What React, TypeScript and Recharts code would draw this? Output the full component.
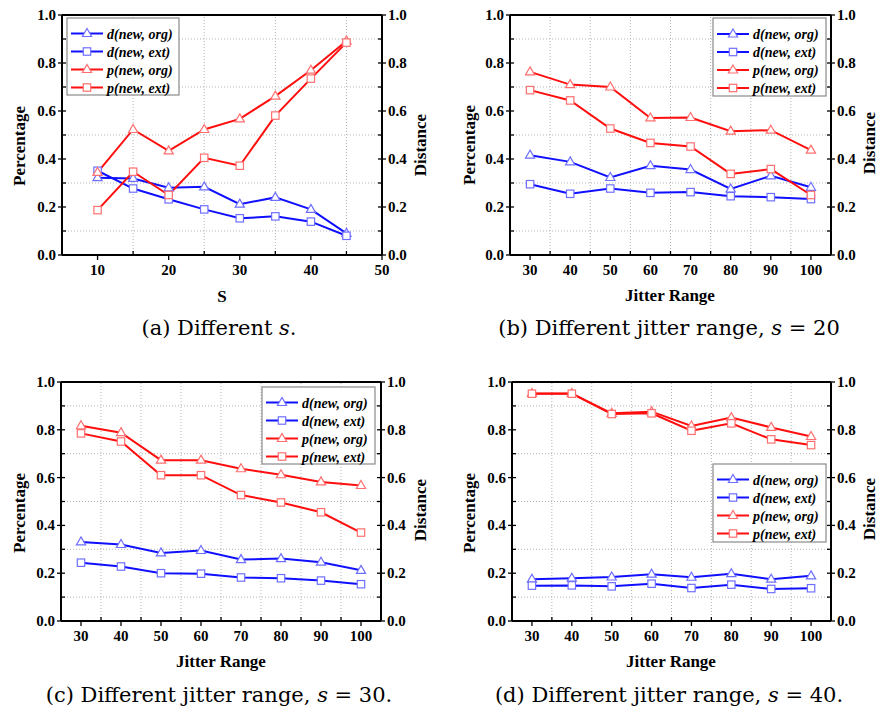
import React from 'react';
import { LineChart, Line, XAxis, YAxis, ReferenceLine } from 'recharts';

// ---------- data ----------
const sValues = [10, 15, 20, 25, 30, 35, 40, 45];
const jitterRange = [30, 40, 50, 60, 70, 80, 90, 100];

const seriesNames = ['d(new, org)', 'd(new, ext)', 'p(new, org)', 'p(new, ext)'];

// (a) Different s
const aDNewOrg = [0.322, 0.319, 0.28, 0.284, 0.212, 0.24, 0.19, 0.09];
const aDNewExt = [0.351, 0.277, 0.232, 0.19, 0.153, 0.161, 0.139, 0.08];
const aPNewOrg = [0.344, 0.523, 0.434, 0.523, 0.567, 0.662, 0.77, 0.892];
const aPNewExt = [0.187, 0.347, 0.25, 0.405, 0.372, 0.581, 0.735, 0.885];

// (b) s = 20
const bDNewOrg = [0.416, 0.388, 0.323, 0.372, 0.356, 0.275, 0.33, 0.282];
const bDNewExt = [0.295, 0.255, 0.277, 0.259, 0.262, 0.245, 0.241, 0.233];
const bPNewOrg = [0.763, 0.71, 0.7, 0.571, 0.573, 0.516, 0.52, 0.437];
const bPNewExt = [0.687, 0.644, 0.527, 0.467, 0.452, 0.338, 0.358, 0.25];

// (c) s = 30
const cDNewOrg = [0.331, 0.32, 0.285, 0.295, 0.257, 0.261, 0.246, 0.212];
const cDNewExt = [0.244, 0.228, 0.2, 0.198, 0.182, 0.179, 0.169, 0.154];
const cPNewOrg = [0.817, 0.788, 0.673, 0.673, 0.637, 0.612, 0.582, 0.567];
const cPNewExt = [0.785, 0.751, 0.61, 0.61, 0.527, 0.496, 0.455, 0.37];

// (d) s = 40
const dDNewOrg = [0.175, 0.179, 0.184, 0.196, 0.183, 0.198, 0.175, 0.189];
const dDNewExt = [0.148, 0.149, 0.145, 0.156, 0.138, 0.152, 0.134, 0.137];
const dPNewOrg = [0.952, 0.952, 0.869, 0.876, 0.816, 0.851, 0.81, 0.772];
const dPNewExt = [0.951, 0.951, 0.866, 0.869, 0.796, 0.827, 0.76, 0.736];

// ticks
const yTicks = [0, 0.1, 0.2, 0.3, 0.4, 0.5, 0.6, 0.7, 0.8, 0.9, 1.0];
const yGrid = [0.1, 0.3, 0.5, 0.7, 0.9];
const sTicks = [5, 10, 15, 20, 25, 30, 35, 40, 45, 50];
const sMajor = [10, 20, 30, 40, 50];
const sGrid = [15, 25, 35, 45];
const jTicks = [25, 30, 35, 40, 45, 50, 55, 60, 65, 70, 75, 80, 85, 90, 95, 100, 105];
const jMajor = [30, 40, 50, 60, 70, 80, 90, 100];
const jGrid = [35, 45, 55, 65, 75, 85, 95];

// ---------- styles ----------
const BLUE = '#1010ff';
const RED = '#ff0e0e';
const BLUE_M = '#6f6fff';
const RED_M = '#ff6f6f';
const SERIF = 'Liberation Serif';
const CAPTION_FONT = 'DejaVu Serif';
const TICK_FS = 15;
const TITLE_FS = 17;

const boldStyle: React.CSSProperties = { fontFamily: SERIF, fontWeight: 700 };

const buildRows = (xs: number[], d1: number[], d2: number[], p1: number[], p2: number[]) =>
  xs.map((x, i) => ({ x, dOrg: d1[i], dExt: d2[i], pOrg: p1[i], pExt: p2[i] }));

const isYMajor = (v: number) => Math.abs(v * 5 - Math.round(v * 5)) < 1e-6;

const TM_Y = 6;
const TM_X = 8;

const YLeftTick = (props: any) => {
  const { x, y, payload } = props;
  const v = payload.value as number;
  const major = isYMajor(v);
  const ax = x + TM_Y;
  return (
    <g>
      <line x1={major ? ax - 4 : ax} x2={ax + 4} y1={y} y2={y} stroke="#000" strokeWidth={1.3} />
      {major && (
        <text x={x} y={y + 5} textAnchor="end" style={{ ...boldStyle, fontSize: TICK_FS }} fill="#000">
          {v.toFixed(1)}
        </text>
      )}
    </g>
  );
};

const YRightTick = (props: any) => {
  const { x, y, payload } = props;
  const v = payload.value as number;
  const major = isYMajor(v);
  const ax = x - TM_Y;
  return (
    <g>
      <line x1={ax - 4} x2={major ? ax + 4 : ax} y1={y} y2={y} stroke="#000" strokeWidth={1.3} />
      {major && (
        <text x={x} y={y + 5} textAnchor="start" style={{ ...boldStyle, fontSize: TICK_FS }} fill="#000">
          {v.toFixed(1)}
        </text>
      )}
    </g>
  );
};

const makeXTick = (major: number[]) => (props: any) => {
  const { x, y, payload } = props;
  const v = payload.value as number;
  const isMaj = major.includes(v);
  const ay = y - TM_X;
  return (
    <g>
      <line x1={x} x2={x} y1={isMaj ? ay : ay - 4} y2={isMaj ? ay + 5 : ay} stroke="#000" strokeWidth={1.3} />
      {isMaj && (
        <text x={x} y={y + 12} textAnchor="middle" style={{ ...boldStyle, fontSize: TICK_FS }} fill="#000">
          {String(v)}
        </text>
      )}
    </g>
  );
};

const Marker = ({ shape, cx, cy, color }: { shape: string; cx: number; cy: number; color: string }) =>
  shape === 'tri' ? (
    <path
      d={`M${cx},${cy - 5} L${cx + 4.6},${cy + 3} L${cx - 4.6},${cy + 3} Z`}
      fill="#fff"
      stroke={color}
      strokeWidth={1.2}
    />
  ) : (
    <rect x={cx - 3.7} y={cy - 3.7} width={7.4} height={7.4} fill="#fff" stroke={color} strokeWidth={1.2} />
  );

const makeDot = (shape: string, color: string) => (p: any) => {
  const { cx, cy, index } = p;
  if (cx == null || cy == null) return <g key={`e-${index}`} />;
  return (
    <g key={`m-${shape}-${index}`}>
      <Marker shape={shape} cx={cx} cy={cy} color={color} />
    </g>
  );
};

const seriesStyle = [
  { key: 'dOrg', stroke: BLUE, mark: BLUE_M, shape: 'tri' },
  { key: 'dExt', stroke: BLUE, mark: BLUE_M, shape: 'sq' },
  { key: 'pOrg', stroke: RED, mark: RED_M, shape: 'tri' },
  { key: 'pExt', stroke: RED, mark: RED_M, shape: 'sq' },
];

type PanelProps = {
  left: number;
  top: number;
  width: number;
  height: number;
  plot: { l: number; r: number; t: number; b: number };
  data: any[];
  xDomain: [number, number];
  xTicks: number[];
  xMajor: number[];
  xGrid: number[];
};

const Y_W = 40;
const X_H = 30;

const Panel = ({ left, top, width, height, plot, data, xDomain, xTicks, xMajor, xGrid }: PanelProps) => {
  const margin = {
    left: plot.l - Y_W,
    right: width - plot.r - Y_W,
    top: plot.t,
    bottom: height - plot.b - X_H,
  };
  return (
    <div style={{ position: 'absolute', left, top }}>
      <LineChart width={width} height={height} data={data} margin={margin}>
        <XAxis
          dataKey="x"
          type="number"
          domain={xDomain}
          ticks={xTicks}
          interval={0}
          allowDataOverflow
          height={X_H}
          tickSize={0}
          tickMargin={TM_X}
          tickLine={false}
          tick={makeXTick(xMajor)}
          axisLine={{ stroke: '#000', strokeWidth: 2 }}
        />
        <YAxis
          yAxisId="left"
          type="number"
          domain={[0, 1]}
          ticks={yTicks}
          interval={0}
          allowDataOverflow
          width={Y_W}
          tickSize={0}
          tickMargin={TM_Y}
          tickLine={false}
          tick={YLeftTick}
          axisLine={{ stroke: '#000', strokeWidth: 2 }}
        />
        <YAxis
          yAxisId="right"
          orientation="right"
          type="number"
          domain={[0, 1]}
          ticks={yTicks}
          interval={0}
          allowDataOverflow
          width={Y_W}
          tickSize={0}
          tickMargin={TM_Y}
          tickLine={false}
          tick={YRightTick}
          axisLine={{ stroke: '#000', strokeWidth: 2 }}
        />
        {yGrid.map((v) => (
          <ReferenceLine key={`gy-${v}`} y={v} yAxisId="left" stroke="#b4b4b4" strokeDasharray="1 2" strokeWidth={1} />
        ))}
        {xGrid.map((v) => (
          <ReferenceLine key={`gx-${v}`} x={v} yAxisId="left" stroke="#b4b4b4" strokeDasharray="1 2" strokeWidth={1} />
        ))}
        <ReferenceLine y={1} yAxisId="left" stroke="#000" strokeWidth={2} />
        {seriesStyle.map((s) => (
          <Line
            key={s.key}
            yAxisId="left"
            type="linear"
            dataKey={s.key}
            stroke={s.stroke}
            strokeWidth={2}
            dot={makeDot(s.shape, s.mark)}
            activeDot={false}
            isAnimationActive={false}
          />
        ))}
      </LineChart>
    </div>
  );
};

const LegendBox = ({ x, y, w, h, first }: { x: number; y: number; w: number; h: number; first: number }) => (
  <g>
    <rect x={x} y={y} width={w} height={h} fill="#fff" stroke="#8a8a8a" strokeWidth={1.2} />
    {seriesNames.map((name, i) => {
      const cy = y + first + i * 18;
      const s = seriesStyle[i];
      return (
        <g key={name}>
          <line x1={x + 4} x2={x + 36} y1={cy} y2={cy} stroke={s.stroke} strokeWidth={2} />
          <Marker shape={s.shape} cx={x + 20} cy={cy} color={s.mark} />
          <text
            x={x + 40}
            y={cy + 5}
            style={{ ...boldStyle, fontStyle: 'italic', fontSize: 14 }}
            fill="#000"
          >
            {name}
          </text>
        </g>
      );
    })}
  </g>
);

const YTitle = ({ x, y, text }: { x: number; y: number; text: string }) => (
  <text
    x={x}
    y={y}
    transform={`rotate(-90 ${x} ${y})`}
    textAnchor="middle"
    style={{ ...boldStyle, fontSize: TITLE_FS }}
    fill="#000"
  >
    {text}
  </text>
);

const XTitle = ({ x, y, text }: { x: number; y: number; text: string }) => (
  <text x={x} y={y} textAnchor="middle" style={{ ...boldStyle, fontSize: TITLE_FS }} fill="#000">
    {text}
  </text>
);

const Caption = ({ x, y, prefix, s, suffix }: { x: number; y: number; prefix: string; s: string; suffix: string }) => (
  <text x={x} y={y} textAnchor="middle" style={{ fontFamily: CAPTION_FONT, fontSize: 21 }} fill="#000">
    {prefix}
    <tspan style={{ fontStyle: 'italic' }}>{s}</tspan>
    {suffix}
  </text>
);

export default function App() {
  const dataA = buildRows(sValues, aDNewOrg, aDNewExt, aPNewOrg, aPNewExt);
  const dataB = buildRows(jitterRange, bDNewOrg, bDNewExt, bPNewOrg, bPNewExt);
  const dataC = buildRows(jitterRange, cDNewOrg, cDNewExt, cPNewOrg, cPNewExt);
  const dataD = buildRows(jitterRange, dDNewOrg, dDNewExt, dPNewOrg, dPNewExt);

  return (
    <div style={{ position: 'absolute', left: 0, top: 0, width: 879, height: 711, background: '#fff', overflow: 'hidden' }}>
      <Panel
        left={0}
        top={0}
        width={440}
        height={340}
        plot={{ l: 62, r: 382, t: 15, b: 255 }}
        data={dataA}
        xDomain={[5, 50]}
        xTicks={sTicks}
        xMajor={sMajor}
        xGrid={sGrid}
      />
      <Panel
        left={440}
        top={0}
        width={439}
        height={340}
        plot={{ l: 70, r: 391, t: 15, b: 255 }}
        data={dataB}
        xDomain={[25, 105]}
        xTicks={jTicks}
        xMajor={jMajor}
        xGrid={jGrid}
      />
      <Panel
        left={0}
        top={360}
        width={440}
        height={351}
        plot={{ l: 61, r: 381, t: 22, b: 261 }}
        data={dataC}
        xDomain={[25, 105]}
        xTicks={jTicks}
        xMajor={jMajor}
        xGrid={jGrid}
      />
      <Panel
        left={440}
        top={360}
        width={439}
        height={351}
        plot={{ l: 72, r: 391, t: 22, b: 261 }}
        data={dataD}
        xDomain={[25, 105]}
        xTicks={jTicks}
        xMajor={jMajor}
        xGrid={jGrid}
      />
      <svg width={879} height={711} style={{ position: 'absolute', left: 0, top: 0, pointerEvents: 'none' }}>
        <LegendBox x={67} y={18} w={112} h={77} first={15.5} />
        <LegendBox x={713} y={18} w={113} h={78} first={16} />
        <LegendBox x={262} y={387} w={113} h={77} first={15.5} />
        <LegendBox x={713} y={464} w={113} h={78} first={15.5} />

        <YTitle x={25} y={146} text="Percentage" />
        <YTitle x={475} y={145} text="Percentage" />
        <YTitle x={25} y={513} text="Percentage" />
        <YTitle x={475} y={513} text="Percentage" />

        <YTitle x={426} y={145} text="Distance" />
        <YTitle x={875} y={143} text="Distance" />
        <YTitle x={426} y={510} text="Distance" />
        <YTitle x={875} y={509} text="Distance" />

        <XTitle x={222} y={302} text="S" />
        <XTitle x={670} y={301} text="Jitter Range" />
        <XTitle x={221} y={667} text="Jitter Range" />
        <XTitle x={671} y={667} text="Jitter Range" />

        <Caption x={219} y={335} prefix="(a) Different " s="s" suffix="." />
        <Caption x={669} y={335} prefix="(b) Different jitter range, " s="s" suffix=" = 20" />
        <Caption x={219} y={702} prefix="(c) Different jitter range, " s="s" suffix=" = 30." />
        <Caption x={669} y={702} prefix="(d) Different jitter range, " s="s" suffix=" = 40." />
      </svg>
    </div>
  );
}
